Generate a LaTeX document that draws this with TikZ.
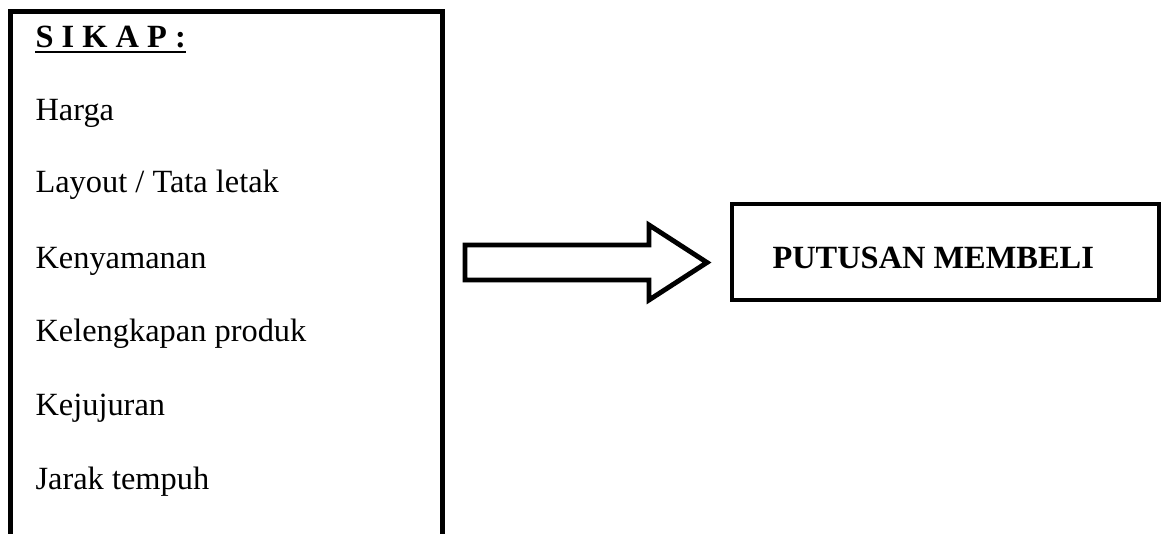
\documentclass[tikz,border=0pt]{standalone}
\usepackage{fontspec}
\setmainfont{Liberation Serif}
\begin{document}
\begin{tikzpicture}[x=0.37037pt,y=-0.37037pt,
  item/.style={anchor=base west,inner sep=0pt,font=\fontsize{12pt}{14pt}\selectfont},
  title/.style={item,font=\fontsize{12pt}{14pt}\selectfont\bfseries},
  frame/.style={draw=black,line width=1.85pt},
  boxframe/.style={draw=black,line width=1.5pt},
  blockarrow/.style={draw=black,line width=1.8pt,line join=miter,fill=white}]
\useasboundingbox (0,0) rectangle (1161,534);
\begin{scope}
\clip (0,0) rectangle (1161,534);
% left panel, open towards the bottom edge
\coordinate (lbl) at (10.5,560);
\coordinate (ltl) at (10.5,11.5);
\coordinate (ltr) at (442.5,11.5);
\coordinate (lbr) at (442.5,560);
\draw[frame] (lbl) -- (ltl) -- (ltr) -- (lbr);
\end{scope}

% heading and list of attitude factors
\node[title] (sikap) at (35,48) {S I K A P :};
\draw[line width=0.75pt] ([yshift=-1.5pt]sikap.base west) -- ([yshift=-1.5pt]sikap.base east);
\node[item] (harga) at (35,121) {Harga};
\node[item] (layout) at (35,193) {Layout / Tata letak};
\node[item] (nyaman) at (35,269) {Kenyamanan};
\node[item] (lengkap) at (35,342) {Kelengkapan produk};
\node[item] (jujur) at (35,415) {Kejujuran};
\node[item] (jarak) at (35,489) {Jarak tempuh};

% decision box
\node[boxframe,minimum width=427*0.37037pt,minimum height=96*0.37037pt,
      anchor=north west,inner sep=0pt] (putusan) at (730,202) {};
\node[title] (putusantext) at (772,269) {PUTUSAN MEMBELI};

% hollow block arrow from the panel to the decision box
\coordinate (a1) at (465,245);
\coordinate (a2) at (649,245);
\coordinate (a3) at (649,225);
\coordinate (a4) at (707,262.5);
\coordinate (a5) at (649,300);
\coordinate (a6) at (649,280);
\coordinate (a7) at (465,280);
\draw[blockarrow] (a1) -- (a2) -- (a3) -- (a4) -- (a5) -- (a6) -- (a7) -- cycle;
\end{tikzpicture}
\end{document}
